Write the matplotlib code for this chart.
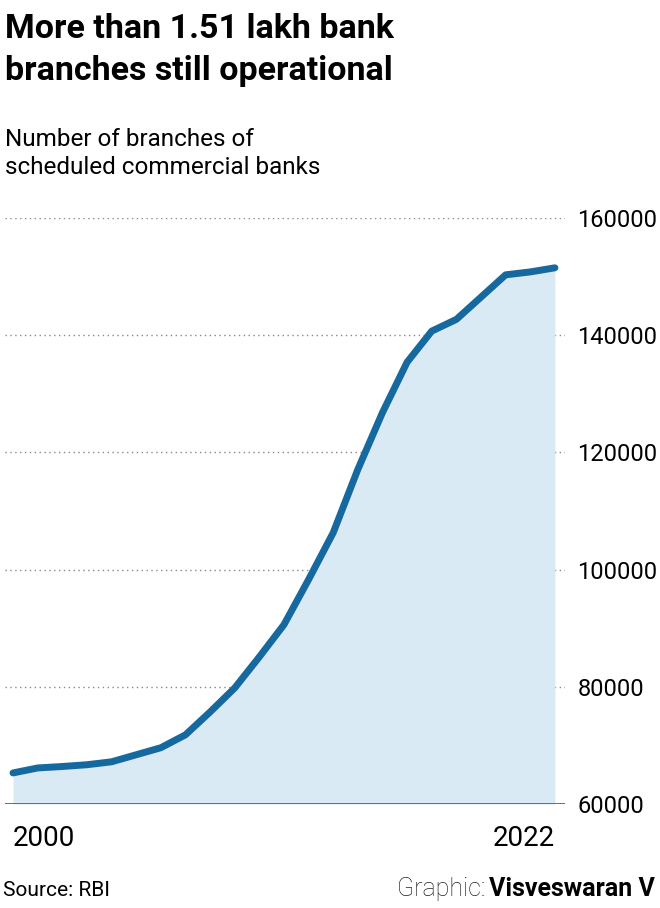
import matplotlib
matplotlib.use("Agg")
import matplotlib.pyplot as plt

years = list(range(2000, 2023))
branches = [65300, 66150, 66400, 66700, 67200, 68400, 69600, 71800, 75700,
            79800, 85100, 90600, 98300, 106300, 117100, 126800, 135400,
            140700, 142700, 146500, 150300, 150800, 151500]
yticks = [60000, 80000, 100000, 120000, 140000, 160000]

plt.rcParams["font.family"] = ["Roboto", "DejaVu Sans"]

LINE = "#16699f"
FILL = "#d9eaf5"

fig = plt.figure(figsize=(6.6, 9.08), dpi=100)
ax = fig.add_axes([5 / 660, 1 - 804 / 908, 560 / 660, (804 - 218) / 908])

ax.fill_between(years, 60000, branches, color=FILL, lw=0, zorder=2)
ax.plot(years, branches, color=LINE, lw=5, solid_capstyle="round",
        solid_joinstyle="round", zorder=3)

ax.set_xlim(1999.675, 2022.41)
ax.set_ylim(60000, 160000)
ax.set_yticks(yticks)
ax.set_yticklabels([str(v) for v in yticks], fontsize=17)
ax.yaxis.tick_right()
ax.tick_params(axis="y", length=0, pad=9)
ax.set_xticks([])
ax.grid(axis="y", color="#888888", linestyle=(0, (1, 2.5)), lw=1, zorder=1)
ax.axhline(60000, color="#555555", lw=1.2, zorder=4)
for s in ax.spines.values():
    s.set_visible(False)

ax.text(2000, 56500, "2000", ha="left", va="top", fontsize=20)
ax.text(2022, 56500, "2022", ha="right", va="top", fontsize=20)

fig.text(5 / 660, 1 - 13 / 908, "More than 1.51 lakh bank\nbranches still operational",
         ha="left", va="top", fontsize=24.5, fontweight="bold", linespacing=1.4)
fig.text(5 / 660, 1 - 128 / 908, "Number of branches of\nscheduled commercial banks",
         ha="left", va="top", fontsize=17.5, linespacing=1.3)
fig.text(3 / 660, 1 - 890 / 908, "Source: RBI", ha="left", va="center", fontsize=15)
t = fig.text(655 / 660, 1 - 889 / 908, "Visveswaran V", ha="right", va="center",
             fontsize=18, fontweight="bold")
fig.canvas.draw()
bb = t.get_window_extent()
fig.text((bb.x0 - 4) / 660, 1 - 889 / 908, "Graphic:", ha="right", va="center",
         fontsize=18, fontweight="light", color="#222222")

fig.savefig("out.png", dpi=100)
